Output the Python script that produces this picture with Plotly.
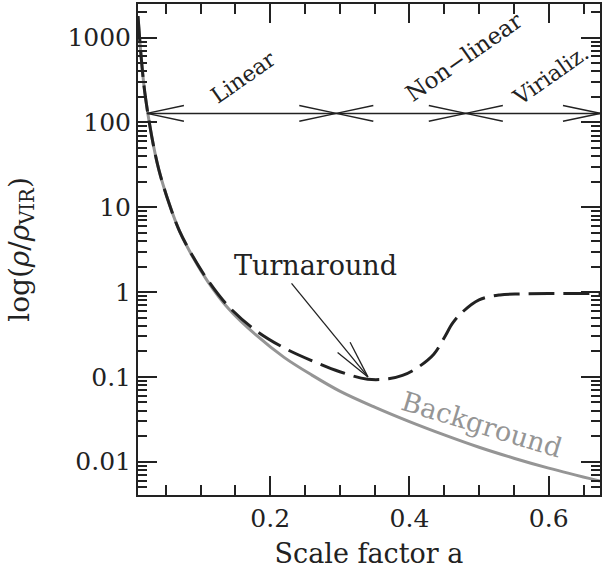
import math
import plotly.graph_objects as go

# Scale factor samples and density (in units of rho_vir) for the background universe
a_bg = [0.0102, 0.015, 0.02, 0.03, 0.04, 0.055, 0.07, 0.09, 0.11, 0.14, 0.18,
        0.22, 0.26, 0.30, 0.35, 0.40, 0.45, 0.50, 0.55, 0.60, 0.6737]
rho_bg = [1800, 560, 225, 68, 28, 11, 5.2, 2.5, 1.35, 0.64, 0.31,
          0.17, 0.105, 0.068, 0.044, 0.0297, 0.0207, 0.0148, 0.011, 0.0084, 0.0059]

# Density of the collapsing overdensity
a_halo = [0.0102, 0.015, 0.02, 0.03, 0.04, 0.055, 0.07, 0.09, 0.11, 0.14, 0.18,
          0.22, 0.26, 0.30, 0.34, 0.37, 0.39, 0.41, 0.435, 0.45, 0.462, 0.475,
          0.50, 0.53, 0.56, 0.60, 0.6737]
rho_halo = [1800, 560, 225, 68, 28, 11, 5.2, 2.55, 1.4, 0.68, 0.35,
            0.22, 0.155, 0.115, 0.094, 0.095, 0.104, 0.126, 0.185, 0.29, 0.43, 0.57,
            0.81, 0.925, 0.95, 0.96, 0.96]

# Evolution phases along the virial density line
rho_line = 128
phase_edges = [0.023, 0.295, 0.481, 0.6737]
phase_names = ["Linear", "Non\u2212linear", "Virializ."]
phase_label_pos = [(0.161, 340), (0.478, 590), (0.602, 363)]

# Turnaround pointer: label location and the tip at the halo density minimum
turn_label = (0.265, 2.05)
turn_tail = (0.2307, 1.27)
turn_tip = (0.3404, 0.10)

# Label on the background curve
bg_label = (0.504, 0.0275)

W, H = 602, 571
ML, MR, MT, MB = 138, 0, 4, 76
PW, PH = W - ML - MR, H - MT - MB
X_RANGE = [0.0102, 0.6737]
Y_RANGE = [math.log10(0.00405), math.log10(2495)]
FONT = "DejaVu Serif"
INK = "#222222"
GREY = "#959595"


def to_px(a, v):
    px = (a - X_RANGE[0]) / (X_RANGE[1] - X_RANGE[0]) * PW
    py = (math.log10(v) - Y_RANGE[0]) / (Y_RANGE[1] - Y_RANGE[0]) * PH
    return px, py


def from_px(px, py):
    a = X_RANGE[0] + px / PW * (X_RANGE[1] - X_RANGE[0])
    v = 10 ** (Y_RANGE[0] + py / PH * (Y_RANGE[1] - Y_RANGE[0]))
    return a, v


def open_head(tip, tail, length=38, half_angle=12):
    """Two barbs of an open arrowhead at `tip`, pointing away from `tail`."""
    tx, ty = to_px(*tip)
    sx, sy = to_px(*tail)
    ang = math.atan2(sy - ty, sx - tx)
    xs, ys = [], []
    for s in (-1, 1):
        t = ang + s * math.radians(half_angle)
        bx, by = tx + length * math.cos(t), ty + length * math.sin(t)
        ba, bv = from_px(bx, by)
        xs += [ba, tip[0], None]
        ys += [bv, tip[1], None]
    return xs, ys


fig = go.Figure()

fig.add_trace(go.Scatter(x=a_bg, y=rho_bg, mode="lines", line_shape="spline",
                         line=dict(color=GREY, width=3), hoverinfo="skip"))
fig.add_trace(go.Scatter(x=a_halo, y=rho_halo, mode="lines", line_shape="spline",
                         line=dict(color=INK, width=3, dash="26px,9px"),
                         hoverinfo="skip"))

# Horizontal phase line with open arrowheads at each phase boundary
hx = [phase_edges[0], phase_edges[-1], None]
hy = [rho_line, rho_line, None]
for i, e in enumerate(phase_edges):
    if i > 0:  # arrow arriving from the left
        xs, ys = open_head((e, rho_line), (e - 0.1, rho_line))
        hx += xs
        hy += ys
    if i < len(phase_edges) - 1:  # arrow leaving to the left
        xs, ys = open_head((e, rho_line), (e + 0.1, rho_line))
        hx += xs
        hy += ys
fig.add_trace(go.Scatter(x=hx, y=hy, mode="lines", line=dict(color=INK, width=1.5),
                         hoverinfo="skip", cliponaxis=False))

# Turnaround pointer
tx, ty = open_head(turn_tip, turn_tail, length=39, half_angle=12)
fig.add_trace(go.Scatter(x=[turn_tail[0], turn_tip[0], None] + tx,
                         y=[turn_tail[1], turn_tip[1], None] + ty,
                         mode="lines", line=dict(color=INK, width=1.3),
                         hoverinfo="skip"))

annotations = []
for name, (ax_, ay_), size in zip(phase_names, phase_label_pos, (22, 23, 22)):
    annotations.append(dict(x=ax_, y=math.log10(ay_), xref="x", yref="y",
                            text=name, showarrow=False, textangle=-35,
                            font=dict(family=FONT, size=size, color=INK)))
annotations.append(dict(x=turn_label[0], y=math.log10(turn_label[1]), xref="x", yref="y",
                        text="Turnaround", showarrow=False,
                        font=dict(family=FONT, size=27, color=INK)))
annotations.append(dict(x=bg_label[0], y=math.log10(bg_label[1]), xref="x", yref="y",
                        text="Background", showarrow=False, textangle=17,
                        font=dict(family=FONT, size=27, color=GREY)))

y_major = [0.01, 0.1, 1, 10, 100, 1000]
y_major_text = ["0.01", "0.1", "1", "10", "100", "1000"]
y_minor = [k * 10 ** e for e in range(-3, 4) for k in range(2, 10)]

fig.update_layout(
    width=W, height=H,
    margin=dict(l=ML, r=MR, t=MT, b=MB),
    paper_bgcolor="white", plot_bgcolor="white",
    showlegend=False,
    font=dict(family=FONT, color=INK),
    annotations=annotations,
    xaxis=dict(
        range=X_RANGE, showgrid=False, zeroline=False,
        showline=True, linecolor=INK, linewidth=2, mirror="allticks",
        ticks="inside", ticklen=19, tickwidth=1.5, tickcolor=INK,
        tickvals=[0.2, 0.4, 0.6], ticktext=["0.2", "0.4", "0.6"],
        tickfont=dict(family=FONT, size=25, color=INK),
        minor=dict(ticks="inside", ticklen=10, tickwidth=1.5, tickcolor=INK,
                   dtick=0.05, tick0=0, showgrid=False),
        title=dict(text="Scale factor a", font=dict(family=FONT, size=27, color=INK),
                   standoff=12),
    ),
    yaxis=dict(
        type="log", range=Y_RANGE, showgrid=False, zeroline=False,
        showline=True, linecolor=INK, linewidth=2, mirror="allticks",
        ticks="inside", ticklen=19, tickwidth=1.5, tickcolor=INK,
        tickvals=y_major, ticktext=y_major_text,
        tickfont=dict(family=FONT, size=25, color=INK),
        minor=dict(ticks="inside", ticklen=9, tickwidth=1.5, tickcolor=INK,
                   tickvals=y_minor, showgrid=False),
        title=dict(text="log(<i>\u03c1</i>/<i>\u03c1</i><sub>VIR</sub>)",
                   font=dict(family=FONT, size=28, color=INK), standoff=30),
    ),
)

fig.write_html("out.html")
